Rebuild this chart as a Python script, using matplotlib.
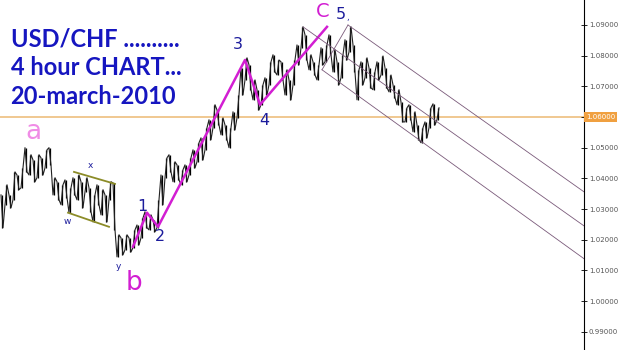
import numpy as np
import matplotlib.pyplot as plt

# USD/CHF 4h bars (high / low per bar)
highs = [1.0346, 1.0379, 1.0346, 1.0421, 1.0411, 1.0434, 1.0500, 1.0477, 1.0460, 1.0477,
         1.0467, 1.0493, 1.0500, 1.0402, 1.0389, 1.0379, 1.0395, 1.0369, 1.0402, 1.0411,
         1.0389, 1.0402, 1.0369, 1.0346, 1.0379, 1.0363, 1.0346, 1.0389, 1.0385, 1.0216,
         1.0206, 1.0216, 1.0206, 1.0232, 1.0248, 1.0271, 1.0291, 1.0281, 1.0265, 1.0330,
         1.0411, 1.0467, 1.0477, 1.0454, 1.0444, 1.0428, 1.0444, 1.0467, 1.0493, 1.0516,
         1.0532, 1.0565, 1.0591, 1.0640, 1.0623, 1.0597, 1.0574, 1.0565, 1.0617, 1.0672,
         1.0760, 1.0793, 1.0770, 1.0721, 1.0689, 1.0705, 1.0728, 1.0780, 1.0803, 1.0786,
         1.0780, 1.0754, 1.0721, 1.0786, 1.0835, 1.0894, 1.0868, 1.0803, 1.0780, 1.0770,
         1.0826, 1.0835, 1.0868, 1.0819, 1.0780, 1.0803, 1.0852, 1.0894, 1.0835, 1.0754,
         1.0780, 1.0793, 1.0760, 1.0747, 1.0780, 1.0799, 1.0760, 1.0737, 1.0705, 1.0689,
         1.0649, 1.0630, 1.0640, 1.0617, 1.0574, 1.0565, 1.0584, 1.0630, 1.0643, 1.0630]
lows = [1.0239, 1.0314, 1.0304, 1.0330, 1.0363, 1.0369, 1.0421, 1.0411, 1.0389, 1.0402,
        1.0411, 1.0434, 1.0444, 1.0346, 1.0330, 1.0314, 1.0337, 1.0288, 1.0346, 1.0330,
        1.0304, 1.0356, 1.0291, 1.0258, 1.0314, 1.0281, 1.0258, 1.0330, 1.0232, 1.0144,
        1.0151, 1.0167, 1.0160, 1.0174, 1.0183, 1.0206, 1.0239, 1.0232, 1.0226, 1.0239,
        1.0314, 1.0402, 1.0421, 1.0389, 1.0395, 1.0379, 1.0389, 1.0411, 1.0434, 1.0454,
        1.0460, 1.0493, 1.0526, 1.0565, 1.0574, 1.0542, 1.0526, 1.0500, 1.0558, 1.0597,
        1.0672, 1.0721, 1.0689, 1.0656, 1.0623, 1.0640, 1.0672, 1.0705, 1.0747, 1.0737,
        1.0721, 1.0672, 1.0656, 1.0705, 1.0770, 1.0826, 1.0786, 1.0754, 1.0737, 1.0721,
        1.0770, 1.0780, 1.0803, 1.0747, 1.0705, 1.0728, 1.0786, 1.0812, 1.0747, 1.0656,
        1.0705, 1.0728, 1.0695, 1.0689, 1.0721, 1.0737, 1.0695, 1.0682, 1.0663, 1.0640,
        1.0584, 1.0584, 1.0591, 1.0552, 1.0526, 1.0516, 1.0532, 1.0565, 1.0574, 1.0591]

# elliott wave drawing (bar index, price)
wave_x = [32.75, 36.25, 39, 60.75, 64.5, 81.25]
wave_y = [1.0177, 1.0288, 1.0242, 1.0786, 1.0640, 1.0894]

# w-x-y flag
flag_top_x, flag_top_y = [18, 28.25], [1.0421, 1.0382]
flag_bot_x, flag_bot_y = [16.5, 26.75], [1.0288, 1.0242]

# down channel
ch_upper = ([86.5, 145.5], [1.0900, 1.0356])
ch_mid = ([75.25, 145.5], [1.0894, 1.0245])
ch_lower = ([80, 145.5], [1.0754, 1.0138])
ch_handle = ([80, 86.5], [1.0754, 1.0900])

level = 1.06
yticks = [0.99, 1.00, 1.01, 1.02, 1.03, 1.04, 1.05, 1.06, 1.07, 1.08, 1.09]

navy = '#1c1c9c'
mag = '#d21ed2'

fig = plt.figure(figsize=(6.25, 3.5), dpi=100)
ax = fig.add_axes([0, 0, 584 / 625, 1])
ax.set_xlim(-0.5, 145.5)
ax.set_ylim(0.98403, 1.09815)

# bars as a jagged path + vertical ranges
idx = np.arange(len(highs))
ax.vlines(idx, lows, highs, color='black', lw=0.9)
zx, zy = [], []
for i in idx:
    if i % 2 == 0:
        zx += [i - 0.25, i + 0.25]
        zy += [highs[i], lows[i]]
    else:
        zx += [i - 0.25, i + 0.25]
        zy += [lows[i], highs[i]]
ax.plot(zx, zy, color='#222222', lw=0.8)

ax.axhline(level, color='#f0c890', lw=1.4, zorder=0)

ax.plot(wave_x, wave_y, color=mag, lw=1.8)
ax.plot(flag_top_x, flag_top_y, color='#8c8c28', lw=1.3)
ax.plot(flag_bot_x, flag_bot_y, color='#8c8c28', lw=1.3)
for xs, ys in [ch_upper, ch_mid, ch_lower, ch_handle]:
    ax.plot(xs, ys, color='#7a5a7a', lw=0.6)

# wave labels
for t, x, y in [('1', 35, 1.0307), ('2', 39.5, 1.0209), ('3', 59, 1.0835),
                ('4', 65.5, 1.0588), ('5', 84.75, 1.0933)]:
    ax.text(x, y, t, color=navy, fontsize=11.5, ha='center', va='center')
ax.text(86.5, 1.0925, ',', color=navy, fontsize=6, ha='center', va='center')
ax.text(80.25, 1.0943, 'C', color=mag, fontsize=14, ha='center', va='center')
ax.text(7.75, 1.0552, 'a', color='#f08ce6', fontsize=19, ha='center', va='center')
ax.text(33, 1.0059, 'b', color=mag, fontsize=19, ha='center', va='center')
for t, x, y in [('w', 16.25, 1.0258), ('x', 22, 1.0441), ('y', 29, 1.0112)]:
    ax.text(x, y, t, color=navy, fontsize=6.5, ha='center', va='center')

# title block
title_lines = ['USD/CHF ..........', '4 hour CHART...', '20-march-2010']
for k, s in enumerate(title_lines):
    ax.text(0.018, 0.888 - k * 0.082, s, transform=ax.transAxes, color='#1616c0',
            fontsize=17, fontweight='bold', family='Lato', ha='left', va='center')

# price axis on the right
for sp in ['left', 'top', 'bottom']:
    ax.spines[sp].set_visible(False)
ax.spines['right'].set_linewidth(0.8)
ax.set_xticks([])
ax.yaxis.tick_right()
ax.set_yticks(yticks)
ax.set_yticklabels(['' if abs(v - level) < 1e-9 else '%.5f' % v for v in yticks])
ax.tick_params(axis='y', direction='inout', length=5, width=0.6, labelsize=5,
               labelcolor='#555555', pad=1)
ax.text(1.003, level, '%.5f' % level, transform=ax.get_yaxis_transform(),
        fontsize=5, color='white', ha='left', va='center',
        bbox=dict(boxstyle='square,pad=0.25', fc='#f0a040', ec='none'))

fig.savefig('out.png', dpi=100)
